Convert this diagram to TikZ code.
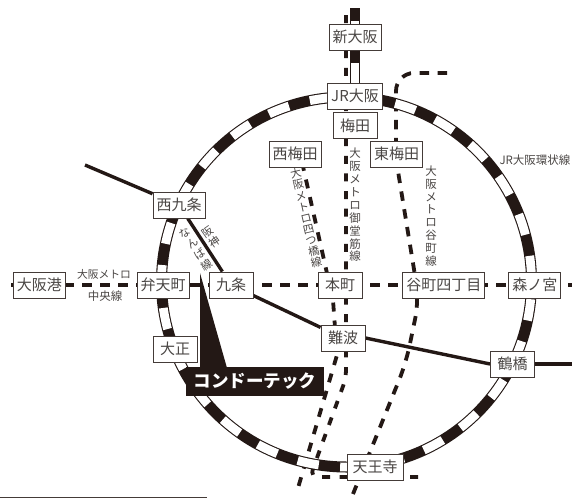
\documentclass[tikz,border=0pt]{standalone}
\usepackage{fontspec}
\setmainfont{Noto Sans CJK JP}
\usetikzlibrary{positioning,backgrounds,calc}
\definecolor{inkblack}{HTML}{231815}
\definecolor{inkgray}{HTML}{4A4644}

\begin{document}
\begin{tikzpicture}[x=1pt,y=-1pt,node distance=20pt,
                    station/.style={draw=inkblack!85,line width=0.9pt,fill=white,text=inkgray,
                      font=\fontsize{15}{15}\selectfont,inner xsep=3.5pt,inner ysep=0pt,
                      minimum height=26pt,minimum width=44pt},
                    line label/.style={text=inkgray,font=\fontsize{11.5}{12.9}\selectfont,align=center,inner sep=0pt},
                    subway/.style={inkblack,line width=3.8pt,dash pattern=on 9.5pt off 8.5pt},
                    private/.style={inkblack,line width=3.4pt},
                    jr band/.style={inkblack,line width=11pt},
                    jr gap/.style={white,line width=8.8pt}]

  \useasboundingbox (0,0) rectangle (572,498);

  \node[station] at (340,285) (hommachi){本町};
  \node[station] [right = 40pt of hommachi] (tanimachi){谷町四丁目};
  \node[station] [right = 23pt of tanimachi] (morinomiya){森ノ宮};
  \node[station] [left = 64pt of hommachi] (kujo){九条};
  \node[station] [left = 19pt of kujo] (bentencho){弁天町};
  \node[station] [left = 71pt of bentencho] (osakako){大阪港};
  \node[station,minimum width=52pt] at (355,96) (jrosaka){JR大阪};
  \node[station] [above = 32pt of jrosaka] (shinosaka){新大阪};
  \node[station] [below = 3pt of jrosaka] (umeda){梅田};
  \node[station] at (295,154) (nishiumeda){西梅田};
  \node[station] at (396.5,154) (higashiumeda){東梅田};
  \node[station] at (179,205) (nishikujo){西九条};
  \node[station] at (175,349) (taisho){大正};
  \node[station] at (343,338) (namba){難波};
  \node[station] at (512.5,364) (tsuruhashi){鶴橋};
  \node[station,minimum width=56pt] at (375,467) (tennoji){天王寺};

  \coordinate (chuoW) at (11,285);
  \coordinate (chuoE) at (572,285);
  \coordinate (hanshinW) at (85,165);
  \coordinate (hanshinE) at (572,364);
  \coordinate (shinTop) at (355,8);
  \coordinate (ringC) at (346.5,282);
  \coordinate (midoN) at (346,15);
  \coordinate (midoA) at (346,378);
  \coordinate (midoB) at (310,477);
  \coordinate (midoS) at (423,477);
  \coordinate (yotsuN) at (302,162);
  \coordinate (yotsuA) at (333,300);
  \coordinate (yotsuB) at (337,355);
  \coordinate (yotsuS) at (298,488);
  \coordinate (taniN) at (447,73);
  \coordinate (taniA) at (396,73);
  \coordinate (taniB) at (396,159);
  \coordinate (taniC) at (419,300);
  \coordinate (taniD) at (406,363);
  \coordinate (taniS) at (353,494);
  \coordinate (frameA) at (0,497);
  \coordinate (frameB) at (206,497);
  \coordinate (frameC) at (206,498);
  \coordinate (calloutTip) at (200,273);
  \coordinate (calloutA) at (200,368);
  \coordinate (calloutB) at (227,368);

  \begin{scope}[on background layer]
    \draw[subway,dash phase=1pt] (chuoW) -- (chuoE);
    \draw[subway,dash pattern=on 8pt off 9.6pt,rounded corners=8pt] (midoN) -- (midoA) -- (midoB) -- (midoS);
    \draw[subway,dash pattern=on 9pt off 9pt] (yotsuN) -- (yotsuA) -- (yotsuB) -- (yotsuS);
    \draw[subway,rounded corners=18pt] (taniN) -- (taniA) -- (taniB) -- (taniC) -- (taniD) -- (taniS);

    \draw[private] (hanshinW) -- (nishikujo);
    \draw[private] (nishikujo) -- (kujo);
    \draw[private] (kujo) -- (namba);
    \draw[private] (namba.east) -- (tsuruhashi.west);
    \draw[private] (tsuruhashi) -- (hanshinE);

    \draw[jr band] (ringC) circle[radius=185pt];
    \draw[jr gap,dash pattern=on 21.52pt off 21.52pt,dash phase=38.3pt] (ringC) circle[radius=185pt];

    \draw[jr band,line width=10pt] (jrosaka) -- (shinTop);
    \draw[jr gap,line width=7.6pt,dash pattern=on 22pt off 20pt,dash phase=2pt] (jrosaka) -- (shinTop);
  \end{scope}

  \draw[inkblack!85,line width=0.9pt] (frameA) -- (frameB) -- (frameC);

  \fill[inkblack] (calloutTip) -- (calloutA) -- (calloutB) -- cycle;
  \node[fill=inkblack,text=white,minimum width=138pt,minimum height=29pt,inner sep=0pt,
        font=\fontsize{17.5}{17.5}\selectfont\bfseries] at (255,381.5) (condotec){コンドーテック};

  \node[line label,font=\fontsize{10.8}{12}\selectfont] at (104,274) (chuoUp){大阪メトロ};
  \node[line label,font=\fontsize{11.5}{12}\selectfont] at (105,296) (chuoDown){中央線};
  \node[line label,font=\fontsize{11.5}{12}\selectfont] at (535,160.5) (ringName){JR大阪環状線};
  \node[line label] at (355,205) (midoName){大\\阪\\メ\\ト\\ロ\\御\\堂\\筋\\線};
  \node[line label] at (431,216) (taniName){大\\阪\\メ\\ト\\ロ\\谷\\町\\線};
  \node[line label,rotate=13,font=\fontsize{11}{11.4}\selectfont] at (306,218) (yotsuName){大\\阪\\メ\\ト\\ロ\\四\\つ\\橋\\線};
  \node[line label,rotate=35,font=\fontsize{11}{12}\selectfont] at (211.5,237.5) (hanshinName){阪\\神};
  \node[line label,rotate=34,font=\fontsize{11}{13}\selectfont] at (196,249) (nambaName){な\\ん\\ば\\線};

\end{tikzpicture}
\end{document}
